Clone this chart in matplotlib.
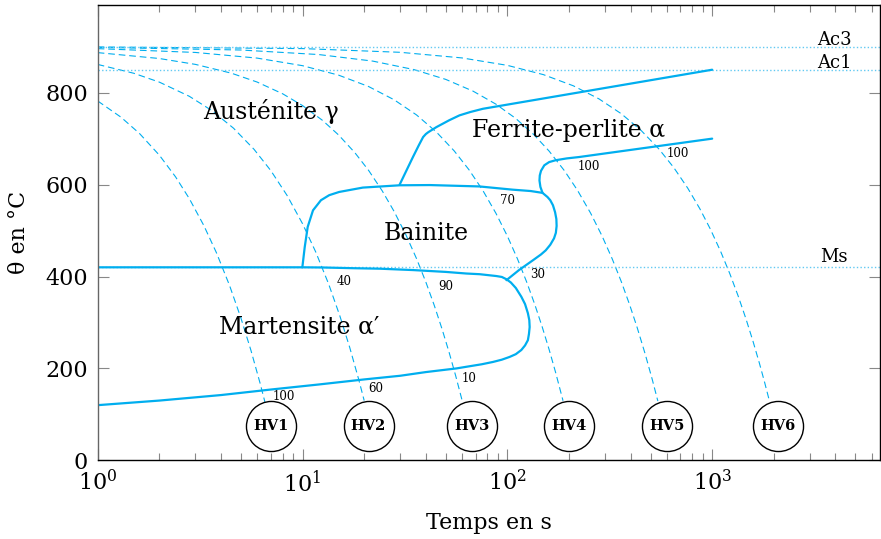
import numpy as np
import matplotlib
matplotlib.use('Agg')
import matplotlib.pyplot as plt

# --- data -------------------------------------------------------------------
# dashed cooling curves (time s, temperature C), one per HV specimen
cool_t = {
    'HV1': [1, 1.3, 1.6, 2, 2.4, 2.8, 3.3, 3.8, 4.4, 5, 5.6, 6.2, 6.55],
    'HV2': [1, 1.5, 2, 2.8, 3.6, 4.6, 5.8, 7, 8.4, 10, 11.6, 13.4, 15.2, 17, 18.8, 20],
    'HV3': [1, 2, 3, 4.5, 6, 8, 10, 12.5, 15, 18, 21, 24.5, 28, 32, 36, 40, 44, 48, 52, 56, 60],
    'HV4': [1, 3, 6, 10, 15, 21, 28, 36, 45, 55, 65, 76, 88, 100, 112, 124, 136, 148, 160,
            172, 187],
    'HV5': [1, 5, 12, 22, 35, 50, 68, 88, 110, 135, 160, 190, 220, 255, 290, 325, 360, 395,
            430, 470, 510, 543],
    'HV6': [1, 10, 30, 60, 100, 150, 210, 280, 360, 450, 550, 650, 760, 870, 980, 1100, 1220,
            1340, 1460, 1580, 1700, 1800, 1900],
}
cool_T = {
    'HV1': [782, 746.6, 711.2, 664, 616.8, 569.6, 510.6, 451.6, 380.8, 310, 239.2, 168.4, 127.1],
    'HV2': [861.5, 842.3, 823, 792.2, 761.4, 722.9, 676.7, 630.5, 576.6, 515, 453.4, 384.1,
            314.8, 245.5, 176.2, 130],
    'HV3': [887.2, 874.4, 861.6, 842.4, 823.2, 797.6, 772, 740, 708, 669.6, 631.2, 586.4, 541.6,
            490.4, 439.2, 388, 336.8, 285.6, 234.4, 183.2, 132],
    'HV4': [895.9, 887.6, 875.3, 858.8, 838.2, 813.5, 784.6, 751.7, 714.6, 673.4, 632.2, 586.9,
            537.4, 488, 438.6, 389.1, 339.7, 290.2, 240.8, 191.4, 129.6],
    'HV5': [898.6, 892.9, 883, 868.8, 850.3, 829, 803.4, 775, 743.8, 708.3, 672.8, 630.2, 587.6,
            537.9, 488.2, 438.5, 388.8, 339.1, 289.4, 232.6, 175.8, 128.9],
    'HV6': [899.6, 896, 887.9, 875.7, 859.5, 839.3, 815, 786.6, 754.2, 717.8, 677.3, 636.8,
            592.2, 547.7, 503.1, 454.5, 405.9, 357.3, 308.7, 260.1, 211.5, 171, 130.5],
}

# HV specimen circles
hv_names = ['HV1', 'HV2', 'HV3', 'HV4', 'HV5', 'HV6']
hv_t = [7, 21, 67, 200, 600, 2100]
hv_T = [75, 75, 75, 75, 75, 75]

# martensite contour: Ms line -> right nose -> lower boundary back to t=1
mart_t = [1, 5, 10, 12.6, 18, 23.8, 34.6, 50, 63, 73.3, 88.4, 94, 99, 104, 110, 117, 122, 126,
          128, 128.5, 127.5, 126, 122, 117, 110, 102.6, 94, 85, 75, 63, 56.5, 40, 30, 20, 12,
          7, 4, 2, 1]
mart_T = [420, 420, 420, 419.6, 418, 417, 414, 410, 406.5, 405, 401, 399, 394, 387, 375, 356,
          340, 320, 305, 290, 275, 261.5, 250, 240, 231, 225, 219, 214, 209, 203.5, 200, 192,
          184, 176, 165, 154, 142, 130, 120]

# bainite contour
bain_t = [99, 114, 133, 146, 154, 162, 169, 172.5, 174, 173.5, 171, 167, 162, 157, 148.5, 130,
          106, 73, 41.8, 29.8, 19.7, 15.1, 13.5, 12.3, 11.25, 10.6, 10.25, 9.98]
bain_T = [392, 414, 435, 448, 457, 469, 483, 495, 510, 525, 540, 555, 566, 573, 582, 586, 589,
          596, 599, 598.5, 593.5, 584, 577, 566, 544, 508, 464, 420]

# ferrite-perlite boundaries
fer_up_t = [29.8, 34.6, 37, 38.8, 40, 41.1, 45, 52, 58.4, 66, 76, 1000]
fer_up_T = [600, 660, 686, 703.5, 710, 714, 725, 740, 750.7, 758, 765, 850]
fer_lo_t = [148.5, 145, 143.5, 144, 146, 151.5, 160, 172, 195, 224, 1000]
fer_lo_T = [582, 595, 609, 620, 630, 642, 649, 653, 657, 660, 700]

# critical temperatures
crit_names = ['Ac3', 'Ac1', 'Ms']
crit_T = [900, 850, 420]
crit_lbl_T = [903, 853, 432]

# hardness / percentage labels
pct_lbl = ['100', '60', '10', '40', '90', '30', '70', '100', '100']
pct_t = [8.1, 22.8, 65.3, 15.9, 50, 140, 99.8, 249, 677]
pct_T = [138, 157, 179, 389, 378, 404, 566, 640, 667]

# phase labels
phase_lbl = ['Austénite γ', 'Ferrite-perlite α', 'Bainite', 'Martensite α′']
phase_t = [7.0, 200, 40, 9.6]
phase_T = [743, 703, 479, 275]

# --- plot -------------------------------------------------------------------
plt.rcParams['font.family'] = ['DejaVu Serif']
plt.rcParams['mathtext.fontset'] = 'dejavuserif'

CYAN = '#00aeef'
LIGHT = '#62c9f2'

fig = plt.figure(figsize=(8.81, 5.39), dpi=100)
ax = fig.add_axes([0.1109, 0.146, 0.888, 0.844])
ax.set_xscale('log')
ax.set_xlim(1, 6600)
ax.set_ylim(0, 990)

for k in hv_names:
    ax.plot(cool_t[k], cool_T[k], color=CYAN, lw=0.8, dashes=(6, 3.5))

for name, T, ly in zip(crit_names, crit_T, crit_lbl_T):
    ax.axhline(T, color=LIGHT, lw=1.0, ls=(0, (1, 1.6)))
    ax.text(3950, ly, name, ha='center', va='baseline', fontsize=13)

for xs, ys in [(mart_t, mart_T), (bain_t, bain_T), (fer_up_t, fer_up_T), (fer_lo_t, fer_lo_T)]:
    ax.plot(xs, ys, color=CYAN, lw=1.6, solid_capstyle='round', solid_joinstyle='round')

ax.scatter(hv_t, hv_T, s=1300, facecolor='white', edgecolor='black', lw=1.0, zorder=5)
for n, x, y in zip(hv_names, hv_t, hv_T):
    ax.text(x, y, n, ha='center', va='center', fontsize=10.5, fontweight='bold', zorder=6)

for s, x, y in zip(pct_lbl, pct_t, pct_T):
    ax.text(x, y, s, ha='center', va='center', fontsize=8.5)

for s, x, y in zip(phase_lbl, phase_t, phase_T):
    ax.text(x, y, s, ha='center', va='baseline', fontsize=17)

ax.set_yticks([0, 200, 400, 600, 800])
ax.tick_params(which='both', direction='in', top=True, right=True, color='#888888',
               labelsize=16)
ax.tick_params(which='major', length=8, width=0.8, pad=7)
ax.tick_params(which='minor', length=4.8, width=0.8)
ax.spines['left'].set_color('#666666')
for sp in ax.spines.values():
    sp.set_linewidth(1.0)

ax.set_xlabel('Temps en s', fontsize=16, labelpad=11)
ax.set_ylabel('θ en °C', fontsize=16, labelpad=11)

plt.savefig('out.png', dpi=100)
